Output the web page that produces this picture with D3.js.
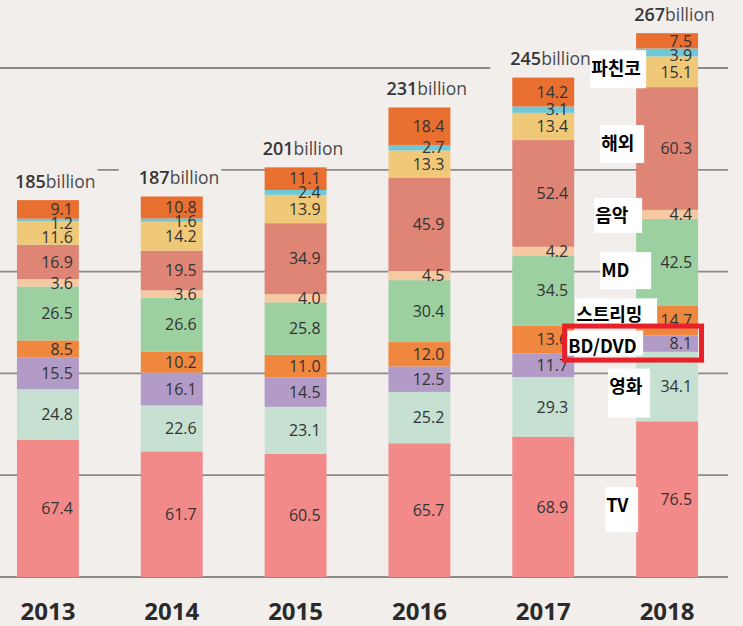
<!DOCTYPE html>
<html>
<head>
<meta charset="utf-8">
<script src="https://cdn.jsdelivr.net/npm/d3@7"></script>
<style>
  html, body { margin: 0; padding: 0; background: #f2eeec; }
  svg { display: block; }
</style>
</head>
<body>
<svg id="chart" width="743" height="626"></svg>
<script>
// ---------- data ----------
const years = ["2013", "2014", "2015", "2016", "2017", "2018"];
const categories = ["TV", "영화", "BD/DVD", "스트리밍", "MD", "음악", "해외", "파친코", "라이브", "기타"];
const tv        = [67.4, 61.7, 60.5, 65.7, 68.9, 76.5];
const film      = [24.8, 22.6, 23.1, 25.2, 29.3, 34.1];
const video     = [15.5, 16.1, 14.5, 12.5, 11.7, 8.1];
const streaming = [8.5, 10.2, 11.0, 12.0, 13.6, 14.7];
const merch     = [26.5, 26.6, 25.8, 30.4, 34.5, 42.5];
const music     = [3.6, 3.6, 4.0, 4.5, 4.2, 4.4];
const overseas  = [16.9, 19.5, 34.9, 45.9, 52.4, 60.3];
const pachinko  = [11.6, 14.2, 13.9, 13.3, 13.4, 15.1];
const live      = [1.2, 1.6, 2.4, 2.7, 3.1, 3.9];
const other     = [9.1, 10.8, 11.1, 18.4, 14.2, 7.5];
const totals    = [185, 187, 201, 231, 245, 267];
const gridTicks = [0, 50, 100, 150, 200, 250];
const labeledCategories = ["파친코", "해외", "음악", "MD", "스트리밍", "BD/DVD", "영화", "TV"];
const highlighted = "BD/DVD";

// ---------- styles / layout ----------
const colors = ["#f28a8a", "#c6e0d2", "#b39bc8", "#f0873e", "#9dd0a0",
                "#f7c9a2", "#df8575", "#efc878", "#6fc8d6", "#e86f30"];
const annoLayout = {
  "파친코":  {dx: -45, dy: -3,  bw: 55, up: 18.5, down: 19.5},
  "해외":    {dx: -35, dy: -5,  bw: 43, up: 18.5, down: 19.5},
  "음악":    {dx: -41, dy: 1,   bw: 47, up: 17.5, down: 17.5},
  "MD":      {dx: -35, dy: 8,   bw: 50, up: 18,   down: 19},
  "스트리밍": {dx: -60, dy: -6,  bw: 81, up: 16,   down: 12},
  "BD/DVD":  {dx: -68, dy: 3,   bw: 75, up: 16,   down: 9},
  "영화":    {dx: -27, dy: 0,   bw: 41, up: 18,   down: 31},
  "TV":      {dx: -30, dy: 6,   bw: 32, up: 18,   down: 27}
};
const minLabelGap = 14;

const svg = d3.select("#chart");
const W = 743, H = 626;
svg.append("rect").attr("width", W).attr("height", H).attr("fill", "#f2eeec");

const series = [tv, film, video, streaming, merch, music, overseas, pachinko, live, other];
const rows = years.map((yr, i) => {
  const r = {year: yr};
  categories.forEach((c, k) => r[c] = series[k][i]);
  return r;
});
const stack = d3.stack().keys(categories)(rows);

const x = d3.scaleBand().domain(years).range([-14, 729]).paddingInner(0.5).paddingOuter(0.25);
const y = d3.scaleLinear().domain([0, 250]).range([577, 68]);

// gridlines
svg.append("g").selectAll("line").data(gridTicks).join("line")
  .attr("x1", 0).attr("x2", 728)
  .attr("y1", d => y(d)).attr("y2", d => y(d))
  .attr("stroke", "#8d8b8a").attr("stroke-width", 1.8);

// total labels (with background covering grid)
const totG = svg.append("g");
years.forEach((yr, i) => {
  const top = y(d3.sum(series, s => s[i]));
  const tx = x(yr) - 2, ty = top - 12.5;
  const g = totG.append("g");
  const bg = g.append("rect").attr("fill", "#f2eeec");
  const t = g.append("text").attr("x", tx).attr("y", ty)
    .style("font-family", "'Open Sans', 'Noto Sans', sans-serif").attr("fill", "#363636");
  t.append("tspan").text(totals[i]).style("font-size", "18px").style("font-weight", 600);
  t.append("tspan").text("billion").style("font-size", "17.5px").attr("fill", "#4a4a4a");
  const bb = t.node().getBBox();
  bg.attr("x", bb.x - 20).attr("y", ty - 22).attr("width", bb.width + 22).attr("height", 27);
});

// bars
const barG = svg.append("g");
stack.forEach((layer, k) => {
  barG.append("g").attr("fill", colors[k]).selectAll("rect").data(layer).join("rect")
    .attr("x", d => x(d.data.year))
    .attr("width", x.bandwidth())
    .attr("y", d => y(d[1]))
    .attr("height", d => y(d[0]) - y(d[1]));
});

// value labels: centred in segment, pushed apart top-down when crowded
const valG = svg.append("g")
  .style("font-family", "'Open Sans', 'Noto Sans', sans-serif")
  .style("font-size", "16px").style("font-weight", 500)
  .attr("fill", "#333").attr("text-anchor", "end");
years.forEach((yr, i) => {
  const labs = stack.map(layer => {
    const d = layer[i];
    return {v: d[1] - d[0], cy: (y(d[0]) + y(d[1])) / 2};
  }).reverse(); // top first
  for (let j = 1; j < labs.length; j++) {
    if (labs[j].cy - labs[j - 1].cy < minLabelGap) labs[j].cy = labs[j - 1].cy + minLabelGap;
  }
  valG.append("g").selectAll("text").data(labs).join("text")
    .attr("x", x(yr) + x.bandwidth() - 6)
    .attr("y", d => d.cy)
    .attr("dy", "0.36em")
    .text(d => d3.format(".1f")(d.v));
});

// year labels
svg.append("g").selectAll("text").data(years).join("text")
  .attr("x", d => x(d) + x.bandwidth() / 2)
  .attr("y", 620)
  .attr("text-anchor", "middle")
  .style("font-family", "'Open Sans', 'Noto Sans', sans-serif")
  .style("font-size", "24px").style("font-weight", 700)
  .attr("fill", "#2a2a2a")
  .text(d => d);

// category annotations on the 2018 bar
const lastYear = years[years.length - 1];
const lastIdx = years.length - 1;
const annoG = svg.append("g");
labeledCategories.forEach(cat => {
  const k = categories.indexOf(cat);
  const seg = stack[k][lastIdx];
  const L = annoLayout[cat];
  const cy = (y(seg[0]) + y(seg[1])) / 2 + L.dy;
  const tx = x(lastYear) + L.dx;
  annoG.append("rect")
    .attr("x", tx - 1).attr("y", cy - L.up)
    .attr("width", L.bw + 1).attr("height", L.up + L.down)
    .attr("fill", "#ffffff");
  annoG.append("text")
    .attr("x", tx).attr("y", cy).attr("dy", "0.36em")
    .style("font-family", "'Noto Sans CJK KR', 'Noto Sans', sans-serif")
    .style("font-size", "18px").style("font-weight", 700)
    .attr("fill", "#000")
    .text(cat);
  if (cat === highlighted) {
    annoG.append("rect")
      .attr("x", tx - 3.5).attr("y", cy - 20.5)
      .attr("width", x(lastYear) + x.bandwidth() + 3.5 - (tx - 3.5))
      .attr("height", 34)
      .attr("fill", "none").attr("stroke", "#e8202a").attr("stroke-width", 5);
  }
});
</script>
</body>
</html>
